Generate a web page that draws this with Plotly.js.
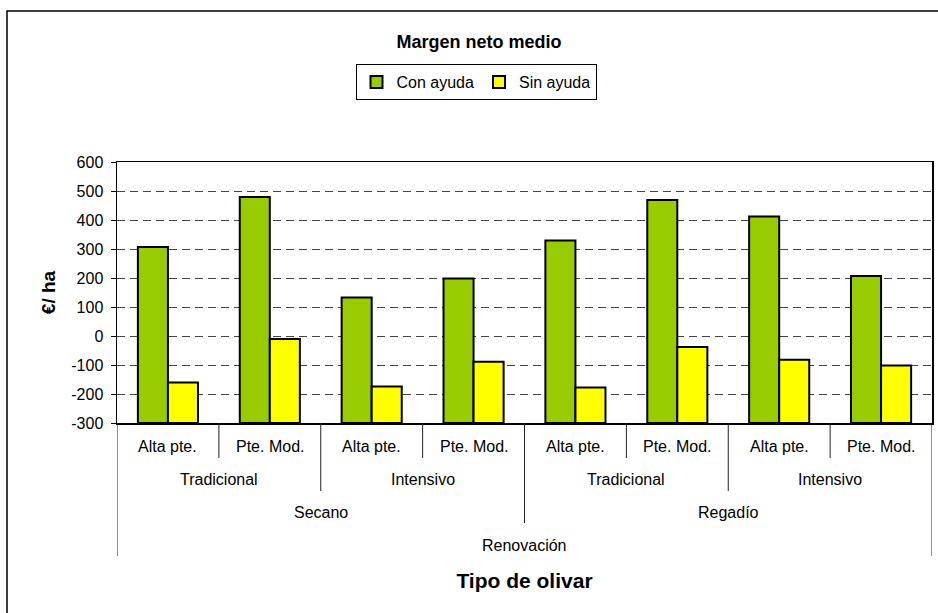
<!DOCTYPE html>
<html>
<head>
<meta charset="utf-8">
<script src="https://cdn.plot.ly/plotly-3.0.1.min.js"></script>
<style>
  html, body { margin: 0; padding: 0; background: #ffffff; }
  #chart { width: 938px; height: 613px; }
</style>
</head>
<body>
<div id="chart"></div>
<script>
// ---- Data ----
const subtipo = ["Alta pte.", "Pte. Mod.", "Alta pte.", "Pte. Mod.", "Alta pte.", "Pte. Mod.", "Alta pte.", "Pte. Mod."];
const sistema = ["Tradicional", "Tradicional", "Intensivo", "Intensivo", "Tradicional", "Tradicional", "Intensivo", "Intensivo"];
const riego = ["Secano", "Secano", "Secano", "Secano", "Regadío", "Regadío", "Regadío", "Regadío"];
const grupo = ["Renovación", "Renovación", "Renovación", "Renovación", "Renovación", "Renovación", "Renovación", "Renovación"];
const conAyuda = [307, 479, 133, 198, 329, 469, 412, 207];
const sinAyuda = [-160, -10, -174, -89, -178, -38, -82, -102];
const seriesNames = ["Con ayuda", "Sin ayuda"];
const chartTitle = "Margen neto medio";
const xTitle = "Tipo de olivar";
const yTitle = "€/ ha";
const yTickVals = [-300, -200, -100, 0, 100, 200, 300, 400, 500, 600];
const yTickText = ["-300", "-200", "-100", "0", "100", "200", "300", "400", "500", "600"];
const yMin = -300, yMax = 600;

// ---- Layout geometry (pixels) ----
const W = 938, H = 613;
const L = 117, R = 932, T = 162, B = 423;
const px = p => (p - L) / (R - L);
const py = p => (B - p) / (B - T);

const FONT = "Arial, 'Liberation Sans', sans-serif";

// unique category keys
const cats = subtipo.map((s, i) => grupo[i] + "|" + riego[i] + "|" + sistema[i] + "|" + s + "|" + i);

// bars rise from the axis minimum (category axis crosses at the minimum, as in the original)
const traces = [
  { type: "bar", name: seriesNames[0], x: cats, base: yMin, y: conAyuda.map(v => v - yMin),
    marker: { color: "#99CC00", line: { color: "#000000", width: 2 } }, hoverinfo: "skip" },
  { type: "bar", name: seriesNames[1], x: cats, base: yMin, y: sinAyuda.map(v => v - yMin),
    marker: { color: "#FFFF00", line: { color: "#000000", width: 2 } }, hoverinfo: "skip" }
];

// hierarchical category axis
const levels = [subtipo, sistema, riego, grupo];
const labelY = [447, 479, 512, 545];
const sepBottom = [458, 491, 523, 556];
const n = subtipo.length;

function keyAt(k, i) {
  let parts = [];
  for (let j = levels.length - 1; j >= k; j--) parts.push(levels[j][i]);
  return parts.join("|");
}

const annotations = [];
const shapes = [];

for (let k = 0; k < levels.length; k++) {
  let start = 0;
  for (let i = 1; i <= n; i++) {
    if (i === n || (k === 0 ? true : keyAt(k, i) !== keyAt(k, i - 1))) {
      annotations.push({
        x: (start + i - 1) / 2, xref: "x", y: py(labelY[k]), yref: "paper",
        text: levels[k][start], showarrow: false, xanchor: "center", yanchor: "middle",
        font: { family: FONT, size: 16, color: "#000000" }
      });
      start = i;
    }
  }
}

// separators
for (let i = 0; i <= n; i++) {
  let depth = levels.length - 1;
  if (i > 0 && i < n) {
    depth = 0;
    for (let k = levels.length - 1; k >= 0; k--) {
      if (keyAt(k, i) !== keyAt(k, i - 1)) { depth = k; break; }
    }
  }
  shapes.push({
    type: "line", xref: "x", yref: "paper",
    x0: i - 0.5, x1: i - 0.5, y0: 0, y1: py(sepBottom[depth]),
    line: { color: "#222222", width: 1 }
  });
}

// outer chart border
shapes.push({
  type: "rect", xref: "paper", yref: "paper",
  x0: px(7), x1: px(960), y0: py(640), y1: py(11),
  line: { color: "#000000", width: 1.5 }, fillcolor: "rgba(0,0,0,0)", layer: "below"
});

const layout = {
  width: W, height: H,
  margin: { l: L, r: W - R, t: T, b: H - B, pad: 0 },
  paper_bgcolor: "#ffffff", plot_bgcolor: "#ffffff",
  font: { family: FONT, size: 16, color: "#000000" },
  title: {
    text: "<b>" + chartTitle + "</b>",
    font: { family: FONT, size: 18, color: "#000000" },
    xref: "container", yref: "container",
    x: 479 / W, y: 1 - 42 / H, xanchor: "center", yanchor: "middle"
  },
  showlegend: true,
  legend: {
    orientation: "h", x: px(476), y: py(82), xanchor: "center", yanchor: "middle",
    bordercolor: "#000000", borderwidth: 1, bgcolor: "#ffffff",
    font: { family: FONT, size: 16, color: "#000000" },
    itemsizing: "constant", tracegroupgap: 0, itemwidth: 30
  },
  barmode: "group", bargap: 0.41, bargroupgap: 0,
  xaxis: {
    type: "category", categoryorder: "array", categoryarray: cats,
    range: [-0.5, n - 0.5],
    showticklabels: false, ticks: "",
    showgrid: false, zeroline: false,
    showline: true, linecolor: "#000000", linewidth: 1.5, mirror: true,
    title: { text: "<b>" + xTitle + "</b>", font: { family: FONT, size: 21, color: "#000000" }, standoff: 150 },
    fixedrange: true
  },
  yaxis: {
    range: [yMin, yMax], tickmode: "array", tickvals: yTickVals, ticktext: yTickText,
    ticks: "outside", ticklen: 5, tickcolor: "#000000", tickwidth: 1,
    ticklabelstandoff: 4,
    tickfont: { family: FONT, size: 16, color: "#000000" },
    showgrid: true, gridcolor: "#444444", gridwidth: 1, griddash: "8px,5px",
    zeroline: false,
    showline: true, linecolor: "#000000", linewidth: 1.5, mirror: true,
    title: { text: "<b>" + yTitle + "</b>", font: { family: FONT, size: 19, color: "#000000" }, standoff: 10 },
    fixedrange: true
  },
  annotations: annotations,
  shapes: shapes
};

Plotly.newPlot("chart", traces, layout, { displayModeBar: false, staticPlot: true });
</script>
</body>
</html>
